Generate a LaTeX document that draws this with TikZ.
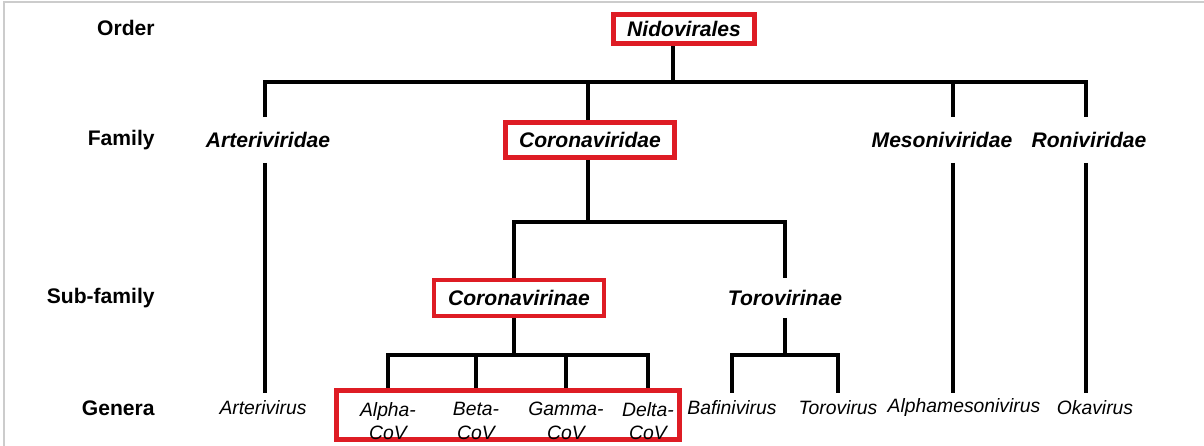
\documentclass[tikz,border=0pt]{standalone}
\usepackage{fontspec}
\setmainfont{Liberation Sans}
\definecolor{boxred}{RGB}{222,28,36}
\begin{document}
\begin{tikzpicture}[x=0.02cm,y=-0.02cm,
		rank/.style={anchor=east,inner sep=0pt,font=\fontsize{12}{14}\selectfont\bfseries},
		taxon/.style={font=\fontsize{12}{14}\selectfont\bfseries\itshape,inner sep=0pt,minimum height=0.9cm},
		genus/.style={font=\fontsize{11}{13.5}\selectfont\itshape,inner sep=0pt,minimum height=0.6cm},
		redbox/.style={draw=boxred,line width=2.8pt,inner sep=0pt},
		tree/.style={line width=1.9pt}]
		\useasboundingbox (0,0) rectangle (1204,446);
		\draw[color=gray!40,line width=0.7pt] (4,446)--(4,2)--(1204,2);
		% ranks
		\node [rank] (order) at (155,28) {Order};
		\node [rank] (family) at (155,140) {Family};
		\node [rank] (subfamily) at (155,298) {Sub-family};
		\node [rank] (genera) at (155,408) {Genera};
		% taxa
		\node [taxon,redbox,minimum width=2.82cm,minimum height=0.58cm] (nido) at (684,29) {Nidovirales};
		\node [taxon] (arteri) at (268,140) {Arteriviridae};
		\node [taxon,redbox,minimum width=3.38cm,minimum height=0.70cm] (coronaviridae) at (590,140) {Coronaviridae};
		\node [taxon] (mesoni) at (942,140) {Mesoniviridae};
		\node [taxon] (roni) at (1089,140) {Roniviridae};
		\node [taxon,redbox,minimum width=3.4cm,minimum height=0.72cm] (coronavirinae) at (519,298) {Coronavirinae};
		\node [taxon,minimum height=0.78cm] (toro) at (785,298) {Torovirinae};
		\node [redbox,minimum width=6.86cm,minimum height=0.98cm] (covbox) at (508,415) {};
		\node [genus,align=center] (alpha) at (388,421) {Alpha-\\CoV};
		\node [genus,align=center] (beta) at (476,421) {Beta-\\CoV};
		\node [genus,align=center] (gamma) at (566,421) {Gamma-\\CoV};
		\node [genus,align=center] (delta) at (648,421) {Delta-\\CoV};
		\node [genus] (arterivirus) at (263,408) {Arterivirus};
		\node [genus] (bafini) at (732,408) {Bafinivirus};
		\node [genus] (torovirus) at (838,408) {Torovirus};
		\node [genus] (alphameso) at (964,408) {Alphamesonivirus};
		\node [genus] (okavirus) at (1095,408) {Okavirus};
		% branch points
		\coordinate (orderbus) at (673,82);
		\coordinate (arterijoint) at (265,82);
		\coordinate (corojoint) at (588,82);
		\coordinate (mesojoint) at (953,82);
		\coordinate (ronijoint) at (1086,82);
		\coordinate (corobus) at (588,222);
		\coordinate (subbus) at (514,355);
		\coordinate (torobus) at (785,355);
		% order to families
		\draw[tree] (nido.south -| orderbus) -- (orderbus);
		\draw[tree] (arterijoint |- arteri.north) -- (arterijoint) -- (ronijoint) -- (ronijoint |- roni.north);
		\draw[tree] (corojoint) -- (corojoint |- coronaviridae.north);
		\draw[tree] (mesojoint) -- (mesojoint |- mesoni.north);
		% families to genera
		\draw[tree] (arterijoint |- arteri.south) -- (arterijoint |- arterivirus.north);
		\draw[tree] (mesojoint |- mesoni.south) -- (mesojoint |- alphameso.north);
		\draw[tree] (ronijoint |- roni.south) -- (ronijoint |- okavirus.north);
		% sub-families
		\draw[tree] (corobus |- coronaviridae.south) -- (corobus);
		\draw[tree] (subbus |- coronavirinae.north) |- (corobus) -| (toro.north);
		\draw[tree] (subbus |- coronavirinae.south) -- (subbus);
		\draw[tree] (alpha.north |- covbox.north) |- (subbus) -| (delta.north |- covbox.north);
		\draw[tree] (beta.north |- covbox.north) -- (beta.north |- subbus);
		\draw[tree] (gamma.north |- covbox.north) -- (gamma.north |- subbus);
		\draw[tree] (torobus |- toro.south) -- (torobus);
		\draw[tree] (bafini.north) |- (torobus) -| (torovirus.north);
\end{tikzpicture}
\end{document}
